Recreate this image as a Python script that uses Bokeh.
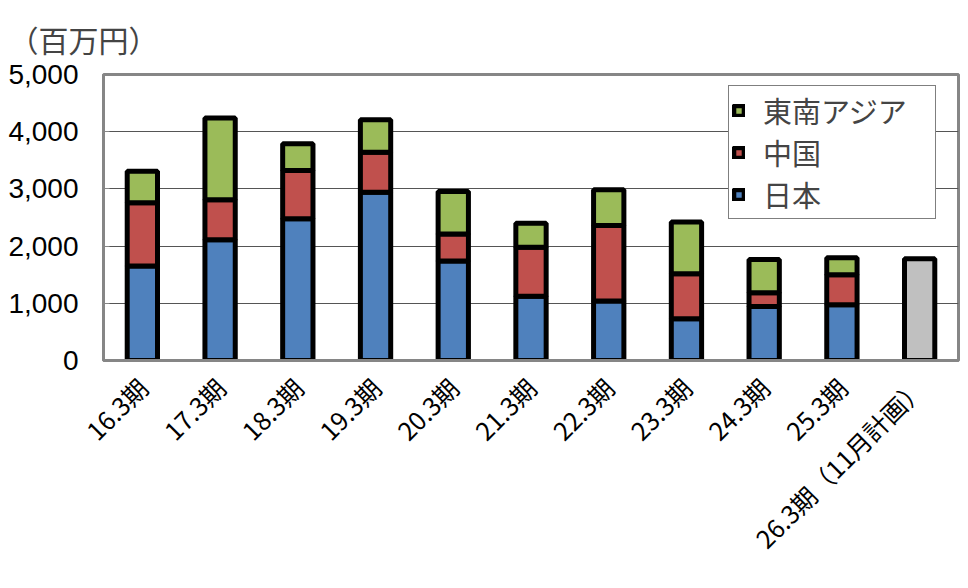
import math
from bokeh.plotting import figure
from bokeh.models import ColumnDataSource, Legend, LegendItem, NumeralTickFormatter, FactorRange, Range1d, FixedTicker
from bokeh.embed import file_html
from bokeh.resources import INLINE

# ---- data ----
categories = ["16.3期", "17.3期", "18.3期", "19.3期", "20.3期", "21.3期",
              "22.3期", "23.3期", "24.3期", "25.3期"]
plan_category = ["26.3期（11月計画）"]
japan = [1650, 2110, 2480, 2940, 1740, 1125, 1040, 730, 945, 975]
china = [1110, 700, 840, 700, 470, 855, 1320, 785, 240, 525]
sea = [550, 1430, 470, 570, 745, 420, 625, 905, 580, 295]
plan_total = [1780]
series_keys = ["japan", "china", "sea"]
series_names = ["日本", "中国", "東南アジア"]
colors = ["#4F81BD", "#C0504D", "#9BBB59"]
plan_color = "#C0C0C0"
y_ticks = [0, 1000, 2000, 3000, 4000, 5000]
unit_label = "（百万円）"

CJK = "Noto Sans CJK JP"
GRAY = "#868686"

src = ColumnDataSource(dict(cat=categories, japan=japan, china=china, sea=sea))
plan_src = ColumnDataSource(dict(cat=plan_category, total=plan_total))

p = figure(x_range=FactorRange(*(categories + plan_category)),
           y_range=Range1d(0, 5000),
           width=960, height=580,
           output_backend="svg", toolbar_location=None,
           min_border_left=103, min_border_right=2,
           min_border_top=74, min_border_bottom=220)

BAR_W = 0.39
renderers = p.vbar_stack(series_keys, x="cat", width=BAR_W, source=src,
                         color=colors, line_color="black", line_width=5)
for r, c in zip(renderers, colors):
    r.glyph.fill_color = c
    r.glyph.line_color = "black"
p.vbar(x="cat", top="total", width=BAR_W, source=plan_src,
       fill_color=plan_color, line_color="black", line_width=5)

# title (unit)
p.title.text = unit_label
p.title.text_font = CJK
p.title.text_font_size = "30px"
p.title.text_font_style = "normal"
p.title.align = "left"
p.title.offset = -95
p.title.standoff = 27

# axes
p.yaxis.ticker = FixedTicker(ticks=y_ticks)
p.yaxis.formatter = NumeralTickFormatter(format="0,0")
p.yaxis.major_label_text_font = "Liberation Sans"
p.yaxis.major_label_text_font_size = "28px"
p.yaxis.major_label_text_color = "black"
p.yaxis.major_label_standoff = 25
p.yaxis.major_tick_in = 6
p.yaxis.major_tick_out = 0
p.yaxis.major_tick_line_color = GRAY
p.yaxis.minor_tick_line_color = None
p.yaxis.axis_line_color = GRAY
p.yaxis.axis_line_width = 3

p.xaxis.major_label_orientation = math.pi / 4
p.xaxis.major_label_text_font = CJK
p.xaxis.major_label_text_font_size = "25px"
p.xaxis.major_label_text_color = "black"
p.xaxis.major_label_standoff = 22
p.xaxis.major_tick_in = 0
p.xaxis.major_tick_out = 0
p.xaxis.axis_line_color = GRAY
p.xaxis.axis_line_width = 3

p.xgrid.grid_line_color = None
p.ygrid.grid_line_color = "#555555"
p.ygrid.grid_line_width = 1

p.outline_line_color = GRAY
p.outline_line_width = 3

# legend (top-to-bottom: 東南アジア, 中国, 日本)
items = [LegendItem(label=n, renderers=[r]) for n, r in zip(series_names, renderers)]
items.reverse()
legend = Legend(items=items, location=(625, 141),
                label_text_font=CJK, label_text_font_size="29px",
                glyph_width=13, glyph_height=13, label_standoff=18,
                label_height=30, label_width=169, spacing=-2, padding=3,
                border_line_color="black", border_line_width=1,
                background_fill_color="white", background_fill_alpha=1)
p.add_layout(legend, "center")

open("out.html", "w").write(file_html(p, INLINE))
